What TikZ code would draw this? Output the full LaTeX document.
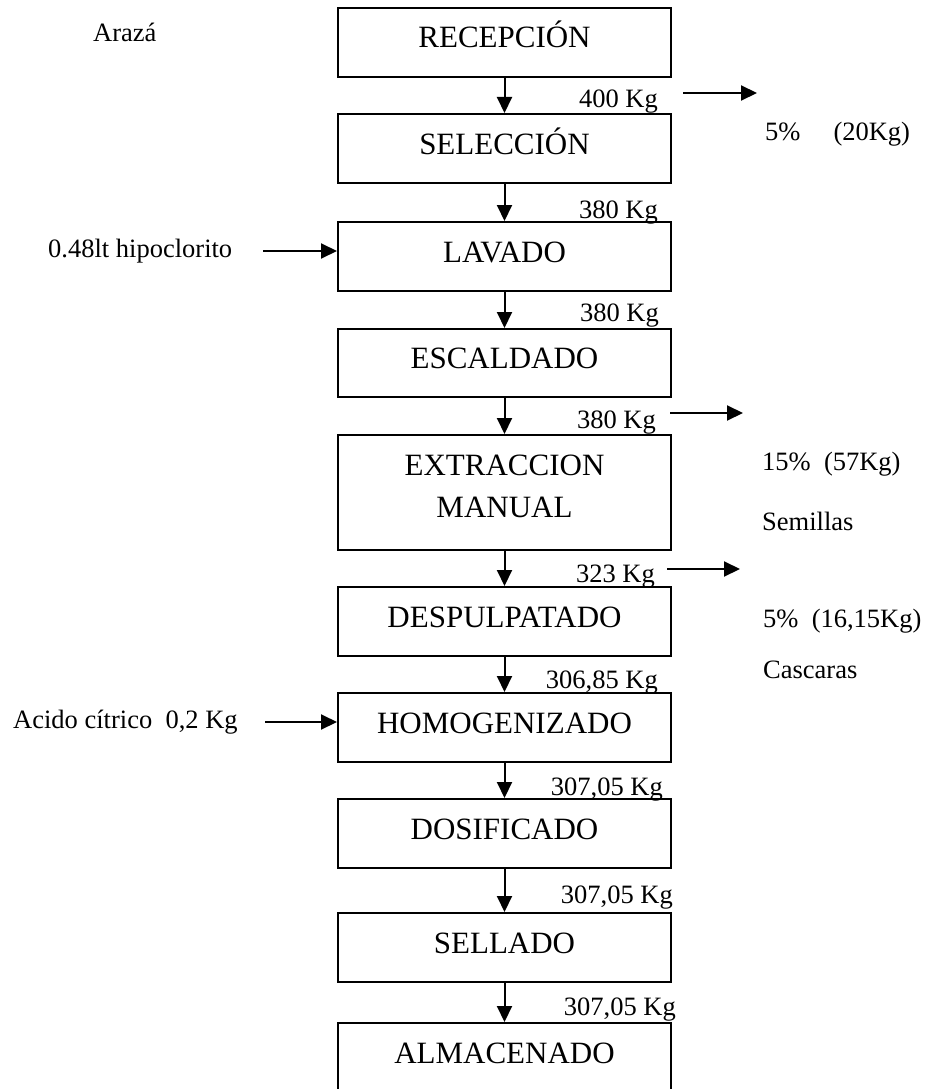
\documentclass[tikz,border=0pt]{standalone}
\usepackage{fontspec}
\setmainfont{Liberation Serif}
\usetikzlibrary{arrows.meta}
\begin{document}
\begin{tikzpicture}[x=1pt,y=-1pt,
  boxbase/.style={draw, line width=2pt, minimum width=333pt, inner sep=0pt,
    font=\fontsize{31}{42}\selectfont, align=center},
  box/.style={boxbase, minimum height=69pt, text height=21pt, text depth=10pt},
  lbl/.style={inner sep=0pt, font=\fontsize{26.5}{32}\selectfont},
  arr/.style={line width=2pt, -{Triangle[length=16pt,width=15pt]}}]
\clip (0,0) rectangle (932,1089);
% process boxes
\node[box] (b1) at (504.5,42.5) {RECEPCIÓN};
\node[box] (b2) at (504.5,148.5) {SELECCIÓN};
\node[box] (b3) at (504.5,256.5) {LAVADO};
\node[box, minimum height=68pt] (b4) at (504.5,363) {ESCALDADO};
\node[boxbase, minimum height=115pt] (b5) at (504.5,492.5) {EXTRACCION\\MANUAL\rule[-12pt]{0pt}{12pt}};
\node[box] (b6) at (504.5,621.5) {DESPULPATADO};
\node[box] (b7) at (504.5,727.5) {HOMOGENIZADO};
\node[box] (b8) at (504.5,833.5) {DOSIFICADO};
\node[box] (b9) at (504.5,947.5) {SELLADO};
\node[box] (b10) at (504.5,1057.5) {ALMACENADO};
% main flow
\foreach \a/\b in {b1/b2,b2/b3,b3/b4,b4/b5,b5/b6,b6/b7,b7/b8,b8/b9,b9/b10}
  \draw[arr] (\a.south) -- (\b.north);
% weights
\node[lbl, anchor=base east] (w1) at (658,108) {400 Kg};
\node[lbl, anchor=base east] (w2) at (658,218) {380 Kg};
\node[lbl, anchor=base east] (w3) at (659,321) {380 Kg};
\node[lbl, anchor=base east] (w4) at (656,428) {380 Kg};
\node[lbl, anchor=base east] (w5) at (655,582) {323 Kg};
\node[lbl, anchor=base east] (w6) at (658,688) {306,85 Kg};
\node[lbl, anchor=base east] (w7) at (663,795) {307,05 Kg};
\node[lbl, anchor=base east] (w8) at (673,903) {307,05 Kg};
\node[lbl, anchor=base east] (w9) at (676,1015) {307,05 Kg};
% left labels
\node[lbl, anchor=base west] (araza) at (93,42) {Arazá};
\node[lbl, anchor=base west] (hipo) at (48,257) {0.48lt hipoclorito};
\node[lbl, anchor=base west] (acido) at (13,728) {Acido cítrico\ \ 0,2 Kg};
\coordinate (in1) at (263,251);
\coordinate (in2) at (265,722);
\draw[arr] (in1) -- (in1 -| b3.west);
\draw[arr] (in2) -- (in2 -| b7.west);
% outputs
\coordinate (o1s) at (683,93);  \coordinate (o1e) at (757,93);
\coordinate (o2s) at (670,413); \coordinate (o2e) at (743,413);
\coordinate (o3s) at (667,569); \coordinate (o3e) at (740,569);
\draw[arr] (o1s) -- (o1e);
\draw[arr] (o2s) -- (o2e);
\draw[arr] (o3s) -- (o3e);
\node[lbl, anchor=base west] (r1) at (765,141) {5\%\hspace{33pt}(20Kg)};
\node[lbl, anchor=base west] (r2) at (762,470) {15\%\ \ (57Kg)};
\node[lbl, anchor=base west] (r3) at (762,530) {Semillas};
\node[lbl, anchor=base west] (r4) at (763,627) {5\%\ \ (16,15Kg)};
\node[lbl, anchor=base west] (r5) at (763,678) {Cascaras};
\end{tikzpicture}
\end{document}
